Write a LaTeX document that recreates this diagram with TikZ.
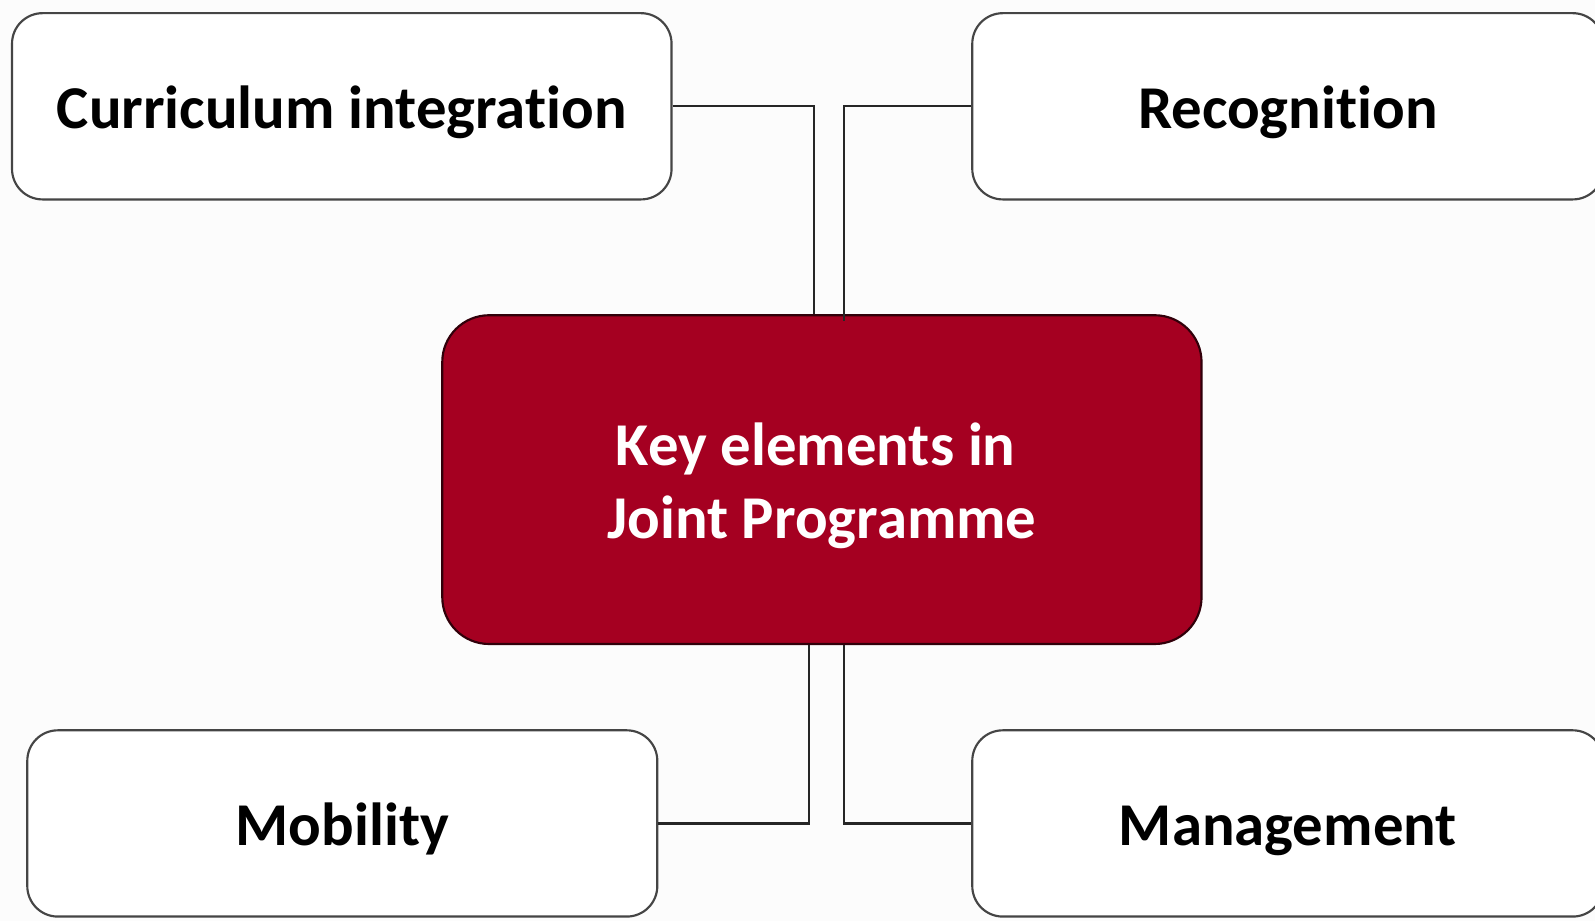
\documentclass[tikz,border=0pt]{standalone}
\usepackage{fontspec}
\setmainfont{Carlito}[Ligatures=NoCommon]
\definecolor{bg}{HTML}{FCFCFC}
\definecolor{keyred}{HTML}{A50021}
\definecolor{edge}{HTML}{454545}
\begin{document}
\begin{tikzpicture}[x=0.01cm,y=-0.01cm,
  elem/.style={draw=edge,line width=0.6pt,fill=white,rounded corners=0.3cm,
    minimum height=1.83cm,inner sep=0pt,text height=12.5pt,text depth=0pt,
    font=\fontsize{17}{20.5}\selectfont\bfseries},
  keybox/.style={draw=black!70!keyred,line width=0.6pt,fill=keyred,rounded corners=0.46cm,
    minimum width=7.46cm,minimum height=3.23cm,inner sep=0pt},
  keytext/.style={inner sep=0pt,text=white,align=center,
    font=\fontsize{17}{20.5}\selectfont\bfseries},
  conn/.style={draw=black!85,line width=0.6pt}]
\useasboundingbox[fill=bg] (0,0) rectangle (1568,905.4);
\node[elem,minimum width=6.48cm] (cur) at (336,104.5) {Curriculum integration};
\node[elem,minimum width=6.20cm] (rec) at (1266,104.5) {Recognition};
\node[elem,minimum width=6.19cm] (mob) at (336.5,809.5) {Mobility};
\node[elem,minimum width=6.20cm] (man) at (1266,809.5) {Management};
\node[keybox] (key) at (808,471.5) {};
\node[keytext] (keylabel) at ([yshift=-0.06cm]key.center) {Key elements in\hspace*{0.12cm}\\Joint Programme};
\draw[conn] (cur.east) -| ([xshift=-0.08cm]key.north);
\draw[conn] (rec.west) -| ([xshift=0.22cm,yshift=-0.07cm]key.north);
\draw[conn] ([xshift=-0.13cm]key.south) |- (mob.east);
\draw[conn] ([xshift=0.22cm]key.south) |- (man.west);
\end{tikzpicture}
\end{document}
